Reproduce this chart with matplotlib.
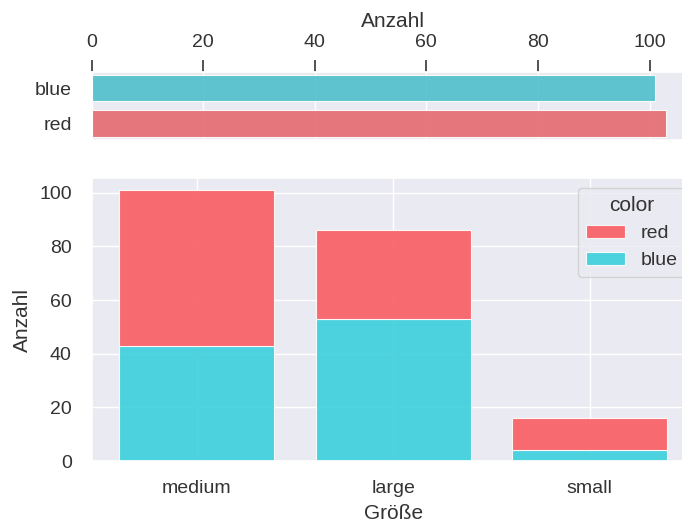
import matplotlib
matplotlib.use("Agg")
from matplotlib import pyplot as plt
import numpy as np
import seaborn as sns

# data
sizes = ["medium", "large", "small"]
blue_counts = [43, 53, 4]
red_counts = [58, 33, 12]
color_names = ["blue", "red"]
color_totals = [101, 103]

sns.set_theme(style="darkgrid")
plt.rcParams['font.family'] = ['Liberation Sans', 'DejaVu Sans']
plt.rcParams['text.color'] = '#333333'
plt.rcParams['axes.labelcolor'] = '#333333'
plt.rcParams['xtick.color'] = '#333333'
plt.rcParams['ytick.color'] = '#333333'

red_c = "#f95c62"
blue_c = "#3bcfdc"
top_cols = ["#4fbfcc", "#e46a6f"]

fig = plt.figure(figsize=(6.82, 5.22), dpi=100)
W, H = 682, 522
left, right = 91.5, 695

ax_top = fig.add_axes([left / W, 1 - 140 / H, (right - left) / W, 68.5 / H])
ax = fig.add_axes([left / W, 1 - 461 / H, (right - left) / W, (461 - 178.3) / H])

# top: counts per colour
ypos = np.arange(len(color_names))
ax_top.barh(ypos, color_totals, height=0.75, color=top_cols, alpha=0.9,
            edgecolor="white", linewidth=0.8)
ax_top.set_yticks(ypos)
ax_top.set_yticklabels(color_names)
ax_top.set_ylim(1.465, -0.465)
ax_top.set_xlim(0, 108.15)
ax_top.set_xticks([0, 20, 40, 60, 80, 100])
ax_top.xaxis.tick_top()
ax_top.xaxis.set_label_position("top")
ax_top.set_xlabel("Anzahl", fontsize=15, labelpad=5)
ax_top.tick_params(axis="x", length=8.5, width=1.1, color="#222222", labelsize=14, pad=6.5)
ax_top.tick_params(axis="y", length=0, labelsize=14, pad=14.2)
ax_top.grid(axis="y", visible=False)

# bottom: stacked counts per size
x = np.arange(len(sizes))
ax.bar(x, blue_counts, width=0.79, color=blue_c, alpha=0.9, edgecolor="white",
       linewidth=0.8, label="blue")
ax.bar(x, red_counts, width=0.79, bottom=blue_counts, color=red_c, alpha=0.9,
       edgecolor="white", linewidth=0.8, label="red")
ax.set_xticks(x)
ax.set_xticklabels(sizes)
ax.set_xlim(-0.535, 2.535)
ax.set_ylim(0, 105.4)
ax.set_yticks([0, 20, 40, 60, 80, 100])
ax.set_xlabel("Größe", fontsize=15, labelpad=5.5)
ax.set_ylabel("Anzahl", fontsize=15, labelpad=5)
ax.tick_params(axis="x", length=0, labelsize=14, pad=13.5)
ax.tick_params(axis="y", length=0, labelsize=14, pad=14.2)

handles, labels = ax.get_legend_handles_labels()
ax.legend(handles[::-1], labels[::-1], title="color", loc="upper right",
          fontsize=14, title_fontsize=15)

fig.savefig("out.png", dpi=100)
